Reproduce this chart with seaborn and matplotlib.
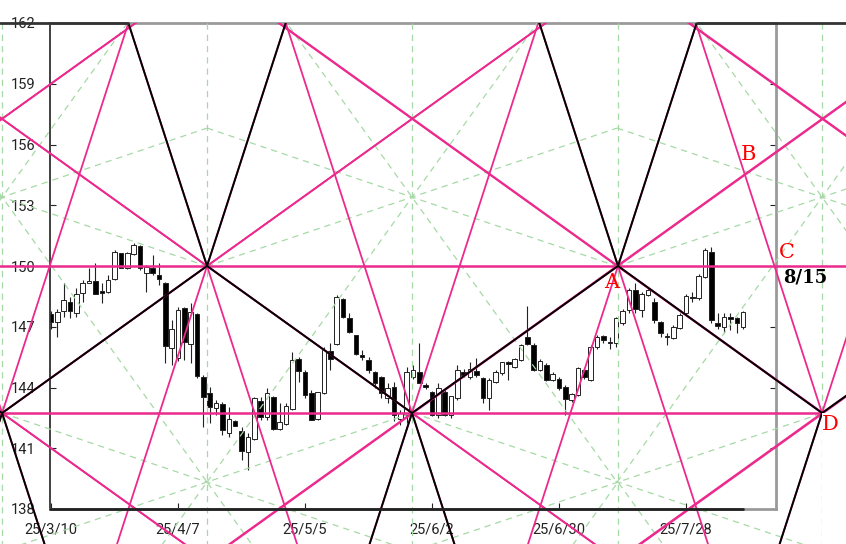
import numpy as np
import pandas as pd
import matplotlib
matplotlib.use("Agg")
import matplotlib.pyplot as plt
from matplotlib.patches import Polygon
import seaborn as sns

# ──────────────────────────────────────────────
# Data: daily candles, x = trading-day index (0 = 25/3/10)
# ──────────────────────────────────────────────
opens = [147.63, 147.25, 147.79, 148.22, 147.69, 148.68, 149.15, 149.26, 148.77, 148.73,
         149.34, 150.63, 149.89, 150.58, 150.99, 149.64, 149.89, 149.56, 149.15, 145.94,
         145.44, 147.91, 146.15, 147.62, 144.54, 143.71, 142.97, 143.19, 141.77, 142.36,
         141.87, 140.83, 141.44, 143.35, 142.53, 143.55, 141.94, 142.20, 142.92, 145.41,
         144.78, 143.71, 142.43, 143.74, 145.80, 146.15, 148.35, 147.42, 146.59, 145.60,
         145.36, 144.78, 144.50, 143.47, 144.01, 142.43, 142.64, 144.50, 144.78, 144.12,
         143.79, 142.64, 143.79, 142.64, 143.47, 144.78, 144.50, 144.81, 144.45, 143.47,
         144.29, 144.70, 145.27, 145.03, 145.36, 146.48, 146.10, 144.86, 145.11, 144.37,
         144.40, 144.01, 143.38, 143.63, 144.86, 144.37, 145.99, 146.54, 146.26, 146.18,
         147.20, 147.83, 148.82, 147.83, 148.57, 148.24, 147.25, 146.56, 146.43, 146.92,
         147.69, 148.46, 148.41, 149.47, 150.71, 147.17, 147.00, 147.50, 147.42, 147.00]
highs = [147.80, 147.90, 149.16, 148.48, 148.91, 149.31, 149.90, 150.15, 149.16, 149.56,
         150.79, 150.66, 150.70, 151.15, 151.04, 150.05, 150.54, 150.13, 149.20, 147.33,
         147.99, 147.99, 148.17, 147.70, 144.62, 144.04, 143.38, 143.30, 143.05, 142.40,
         142.06, 141.74, 143.55, 143.55, 143.96, 143.60, 143.22, 143.22, 145.77, 145.49,
         144.86, 143.88, 143.80, 146.02, 146.18, 148.57, 148.40, 147.66, 146.60, 145.85,
         145.51, 144.80, 144.55, 144.22, 144.29, 142.89, 145.03, 145.11, 146.18, 144.20,
         143.85, 144.22, 143.90, 143.60, 145.11, 144.90, 145.27, 145.44, 144.50, 144.45,
         144.85, 145.27, 145.30, 145.45, 146.15, 148.02, 146.20, 145.40, 145.20, 144.75,
         144.50, 144.10, 143.75, 145.00, 144.95, 146.10, 146.60, 146.60, 146.50, 147.50,
         147.90, 148.90, 149.16, 148.70, 148.90, 148.40, 147.30, 146.70, 147.10, 147.70,
         148.60, 148.70, 149.60, 150.87, 150.95, 147.68, 147.68, 147.68, 147.50, 147.80]
lows = [146.90, 146.51, 147.50, 147.43, 147.50, 148.24, 149.15, 148.62, 148.17, 148.67,
        149.30, 149.89, 149.85, 150.55, 149.80, 148.73, 149.56, 149.06, 145.21, 145.11,
        145.30, 145.36, 145.21, 144.47, 142.06, 142.24, 142.64, 141.65, 141.57, 142.10,
        140.42, 139.93, 141.40, 142.40, 142.40, 141.90, 141.90, 142.15, 142.90, 144.29,
        143.48, 142.38, 142.40, 143.70, 144.86, 146.10, 147.45, 146.70, 145.60, 145.36,
        144.72, 143.97, 143.48, 143.23, 142.35, 142.15, 142.25, 144.40, 144.20, 143.95,
        142.60, 142.49, 142.60, 142.49, 143.40, 144.50, 144.40, 144.50, 143.22, 142.89,
        144.20, 144.60, 144.37, 144.95, 145.30, 146.10, 144.80, 144.80, 144.30, 144.30,
        143.90, 142.64, 143.30, 143.60, 144.40, 144.30, 145.90, 146.20, 145.90, 146.00,
        147.10, 147.70, 147.70, 147.50, 148.50, 147.20, 146.50, 146.10, 146.40, 146.90,
        147.60, 148.20, 148.30, 149.40, 147.20, 146.90, 146.69, 146.84, 146.69, 146.90]
closes = [147.24, 147.74, 148.32, 147.79, 148.62, 149.17, 149.28, 148.62, 148.68, 149.31,
          150.71, 149.92, 150.63, 151.03, 149.89, 149.97, 149.64, 149.36, 146.05, 146.87,
          147.83, 146.23, 147.74, 144.57, 143.55, 143.05, 143.22, 141.90, 142.43, 142.11,
          140.88, 141.57, 143.47, 142.53, 143.71, 141.94, 142.31, 143.09, 145.36, 144.83,
          143.63, 142.39, 143.79, 145.85, 145.39, 148.45, 147.50, 146.76, 145.65, 145.52,
          144.86, 144.21, 143.71, 143.96, 142.64, 142.73, 144.78, 144.86, 144.21, 144.01,
          142.64, 143.96, 142.64, 143.59, 144.86, 144.62, 144.90, 144.62, 143.47, 144.37,
          144.78, 145.24, 145.16, 145.39, 146.10, 146.15, 144.86, 145.31, 144.37, 144.67,
          143.96, 143.42, 143.68, 144.95, 144.50, 146.02, 146.51, 146.35, 146.21, 147.42,
          147.78, 148.82, 147.86, 148.60, 148.82, 147.33, 146.68, 146.48, 147.00, 147.58,
          148.52, 148.41, 149.52, 150.79, 147.33, 147.04, 147.50, 147.37, 147.17, 147.74]

xtick_pos    = [0, 20, 40, 60, 80, 100]
xtick_labels = ["25/3/10", "25/4/7", "25/5/5", "25/6/2", "25/6/30", "25/7/28"]
ytick_vals   = [138, 141, 144, 147, 150, 153, 156, 159, 162]

# ── geometric construction (pivot lows / mids, in index units) ──
low_x   = [-72.3, -7.7, 56.85, 121.42, 186.0]
mid_x   = [-40.0, 24.57, 89.29, 153.9]
LOW_Y, MID_Y = 142.74, 150.0
TOP_Y, BOT_Y = 162.0, 138.0
star_hi, star_lo = 153.4, 139.33
date_label = "8/15"

df = pd.DataFrame({"open": opens, "high": highs, "low": lows, "close": closes})
df["x"] = np.arange(len(df))

# ──────────────────────────────────────────────
# Style
# ──────────────────────────────────────────────
sns.set_theme(style="white")
plt.rcParams["font.family"] = ["Roboto", "DejaVu Sans"]

PINK  = "#ec2a8e"
GREEN = "#a6d9a6"
GRAY  = "#9a9a9a"
FLOOR = 134.0

fig = plt.figure(figsize=(8.46, 5.44), dpi=100)
ax = fig.add_axes([50 / 846, 35 / 544, 726 / 846, 486 / 544])
ax.set_xlim(-0.16, 114.17)
ax.set_ylim(BOT_Y, TOP_Y)
inv = ax.transData.inverted()
FIG_L = inv.transform((0, 0))[0]
FIG_R = inv.transform((846, 0))[0]

# drawing area: everything below 162, nothing right of the last low under its level
end_x = low_x[3]
clip_poly = Polygon([(FIG_L - 50, TOP_Y), (FIG_R + 50, TOP_Y), (FIG_R + 50, LOW_Y),
                     (end_x, LOW_Y), (end_x, FLOOR - 5), (FIG_L - 50, FLOOR - 5)],
                    closed=True, transform=ax.transData)

def draw(xs, ys, **kw):
    ln, = ax.plot(xs, ys, **kw)
    ln.set_clip_path(clip_poly)
    ln.set_clip_box(fig.bbox)
    return ln

# ── candles ──
up = df["close"] >= df["open"]
ax.vlines(df["x"], df["low"], df["high"], color="#222222", lw=0.8, zorder=2)
body_lo = np.minimum(df["open"], df["close"])
body_h = (df["close"] - df["open"]).abs()
ax.bar(df["x"], body_h, bottom=body_lo, width=0.72,
       color=np.where(up, "white", "black"), edgecolor="#222222",
       linewidth=0.7, zorder=2.5)

# ── helpers ──
def seg(x0, y0, k):
    """long line through (x0, y0) with slope k"""
    return [x0 + (TOP_Y + 5 - y0) / k, x0 + (FLOOR - 5 - y0) / k], [TOP_Y + 5, FLOOR - 5]

half = mid_x[1] - low_x[1]
k_sh = (MID_Y - LOW_Y) / half                          # shallow slope
k_st = ((TOP_Y - LOW_Y) + (TOP_Y - MID_Y)) / half      # steep slope
k_g1 = (star_hi - star_lo) / half                      # green diagonal
k_g2 = (LOW_Y - star_lo) / half                        # green shallow
dx_top = (TOP_Y - MID_Y) / k_st
dx_bot = (LOW_Y - FLOOR + 5) / k_st

# ── green dashed stars (rays span half a cycle each way) ──
gkw = dict(color=GREEN, lw=0.9, ls=(0, (5, 4)), zorder=3)
for xv in low_x + mid_x:
    draw([xv, xv], [TOP_Y, FLOOR - 5], **gkw)
for sx in low_x:            # upper stars: all eight rays
    for k in (k_g1, k_g2):
        draw([sx - half, sx + half], [star_hi - k * half, star_hi + k * half], **gkw)
        draw([sx - half, sx + half], [star_hi + k * half, star_hi - k * half], **gkw)
for sx in mid_x:            # lower stars: upward diagonals already drawn
    draw([sx - half, sx, sx + half], [star_lo - k_g1 * half, star_lo, star_lo - k_g1 * half], **gkw)
    draw([sx - half, sx + half], [star_lo - k_g2 * half, star_lo + k_g2 * half], **gkw)
    draw([sx - half, sx + half], [star_lo + k_g2 * half, star_lo - k_g2 * half], **gkw)

# ── pink lattice ──
pkw = dict(color=PINK, lw=1.3, zorder=4)
for px, py in [(xv, LOW_Y) for xv in low_x] + [(xv, MID_Y) for xv in mid_x]:
    for k in (k_sh, -k_sh, k_st, -k_st):
        xs, ys = seg(px, py, k)
        draw(xs, ys, **pkw)
draw([FIG_L, FIG_R], [MID_Y, MID_Y], color=PINK, lw=1.8, zorder=4)
draw([FIG_L, end_x], [LOW_Y, LOW_Y], color=PINK, lw=1.8, zorder=4)

# ── black skeleton ──
bkw = dict(color="black", lw=1.4, zorder=5)
piv = sorted([(xv, LOW_Y) for xv in low_x] + [(xv, MID_Y) for xv in mid_x])
draw([p[0] for p in piv], [p[1] for p in piv], **bkw)
for xv in mid_x:
    draw([xv - dx_top, xv, xv + dx_top], [TOP_Y, MID_Y, TOP_Y], **bkw)
for xv in low_x:
    draw([xv - dx_bot, xv, xv + dx_bot], [FLOOR - 5, LOW_Y, FLOOR - 5], **bkw)
ax.plot([FIG_L, mid_x[1] - dx_top], [TOP_Y, TOP_Y], color="#333333", lw=2, clip_on=False, zorder=5)
ax.plot([mid_x[2] + dx_top, FIG_R], [TOP_Y, TOP_Y], color="#333333", lw=2, clip_on=False, zorder=5)
ax.plot([ax.get_xlim()[0], df["x"].iloc[-1]], [BOT_Y, BOT_Y], color="#222222", lw=2,
        clip_on=False, zorder=5)

# ── labels A-D ──
A = (mid_x[2], MID_Y)
bx = (MID_Y - k_sh * mid_x[2] - LOW_Y - k_st * low_x[3]) / (-k_sh - k_st)
B = (bx, MID_Y + k_sh * (bx - mid_x[2]))
C = (low_x[3] - (MID_Y - LOW_Y) / k_st, MID_Y)
D = (low_x[3], LOW_Y)
tkw = dict(textcoords="offset pixels", color="red", fontsize=15,
           family="DejaVu Serif", ha="center", va="center", annotation_clip=False, zorder=7)
ax.annotate("A", A, xytext=(-6, -17), **tkw)
ax.annotate("B", B, xytext=(4, 20), **tkw)
ax.annotate("C", C, xytext=(12, 14), **tkw)
ax.annotate("D", D, xytext=(8, -11), **tkw)
ax.annotate(date_label, C, xytext=(31, -12), textcoords="offset pixels", color="black",
            fontsize=13, fontweight="bold", family="DejaVu Serif", ha="center", va="center",
            annotation_clip=False, zorder=7)

# ── axes cosmetics ──
ax.set_xticks(xtick_pos)
ax.set_xticklabels(xtick_labels)
ax.set_yticks(ytick_vals)
ax.set_yticklabels([str(v) for v in ytick_vals])
ax.tick_params(axis="both", direction="in", length=4, width=0.8, colors="#222222",
               labelsize=10.5, labelcolor="#222222")
ax.tick_params(axis="y", right=True, left=True, pad=10.5)
ax.tick_params(axis="x", bottom=True, pad=10)
for side in ("top", "right", "bottom"):
    ax.spines[side].set_color(GRAY)
    ax.spines[side].set_linewidth(2)
ax.spines["left"].set_color("#333333")
ax.spines["left"].set_linewidth(1.3)
ax.grid(False)

fig.savefig("out.png", dpi=100)
